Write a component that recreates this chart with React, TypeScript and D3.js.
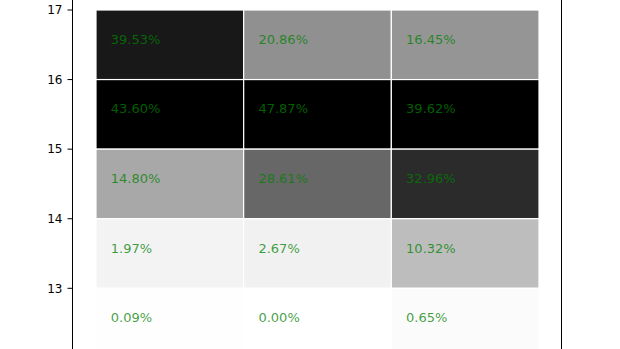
import React from "react";
import * as d3 from "d3";

const columns = ["A", "B", "C"];
const rowBases = [16, 15, 14, 13, 12];
const values: number[][] = [
  [39.53, 20.86, 16.45],
  [43.6, 47.87, 39.62],
  [14.8, 28.61, 32.96],
  [1.97, 2.67, 10.32],
  [0.09, 0.0, 0.65],
];
const yTicks = [13, 14, 15, 16, 17];

const W = 620;
const H = 349;

export default function App() {
  const x = d3.scaleLinear().domain([0, columns.length]).range([96, 539]);
  const y = d3.scaleLinear().domain([13, 17]).range([288.3, 10]);
  const spineL = 72.5;
  const spineR = 561.5;
  const colMax = columns.map((_, j) => d3.max(values, (r) => r[j]) as number);
  const color = (v: number, j: number) => {
    const t = v / colMax[j];
    const g = Math.round(255 * (1 - t));
    return d3.rgb(g, g, g).toString();
  };
  return (
    <svg
      width={W}
      height={H}
      style={{ position: "absolute", left: 0, top: 0, background: "#fff" }}
      fontFamily="DejaVu Sans, sans-serif"
    >
      <rect x={0} y={0} width={W} height={H} fill="#fff" />
      {values.map((row, i) =>
        row.map((v, j) => (
          <rect
            key={`c${i}-${j}`}
            x={x(j)}
            y={y(rowBases[i] + 1)}
            width={x(j + 1) - x(j)}
            height={y(rowBases[i]) - y(rowBases[i] + 1)}
            fill={color(v, j)}
            stroke="#fff"
            strokeWidth={1.2}
          />
        ))
      )}
      {values.map((row, i) =>
        row.map((v, j) => (
          <text
            key={`t${i}-${j}`}
            x={x(j + 0.1)}
            y={y(rowBases[i] + 0.5) - 1}
            fontSize={13}
            fill="green"
            fillOpacity={0.75}
          >
            {v.toFixed(2)}%
          </text>
        ))
      )}
      <line x1={spineL} x2={spineL} y1={0} y2={H} stroke="#000" strokeWidth={1} />
      <line x1={spineR} x2={spineR} y1={0} y2={H} stroke="#000" strokeWidth={1} />
      {yTicks.map((t) => (
        <g key={`yt${t}`}>
          <line x1={spineL - 5} x2={spineL} y1={y(t)} y2={y(t)} stroke="#000" strokeWidth={1} />
          <text x={spineL - 10} y={y(t)} dy="0.35em" textAnchor="end" fontSize={12} fill="#000">
            {t}
          </text>
        </g>
      ))}
    </svg>
  );
}
